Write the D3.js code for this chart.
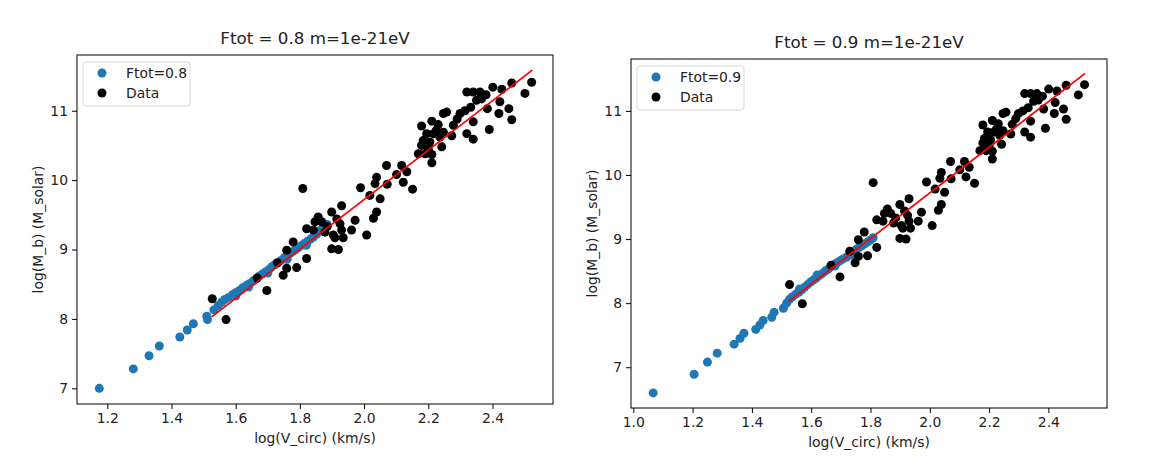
<!DOCTYPE html>
<html>
<head>
<meta charset="utf-8">
<script src="https://cdn.jsdelivr.net/npm/d3@7"></script>
<style>
  body { margin: 0; background: #fff; }
  text { font-family: "DejaVu Sans", sans-serif; fill: #222; }
</style>
</head>
<body>
<script>
const W = 1168
const H = 458

// observed galaxies, log(V_circ) vs log(M_b), shared by both panels
const dataPoints = [
  [2.522, 11.41], [2.501, 11.25], [2.460, 11.40], [2.429, 11.31], [2.401, 11.34],
  [2.423, 11.13], [2.451, 11.03], [2.420, 10.96], [2.460, 10.87], [2.390, 10.73],
  [2.380, 11.23], [2.384, 11.03], [2.361, 11.27], [2.340, 11.27], [2.320, 11.27],
  [2.366, 11.17], [2.332, 11.05], [2.314, 11.00], [2.299, 10.96], [2.257, 10.98],
  [2.247, 10.96], [2.278, 10.79], [2.340, 10.84], [2.320, 10.67], [2.340, 10.59],
  [2.211, 10.85], [2.231, 10.80], [2.179, 10.78], [2.195, 10.67], [2.216, 10.67],
  [2.247, 10.69], [2.273, 10.64], [2.184, 10.57], [2.205, 10.55], [2.236, 10.62],
  [2.242, 10.48], [2.179, 10.50], [2.169, 10.38], [2.190, 10.38], [2.211, 10.37],
  [2.211, 10.25], [2.133, 10.12], [2.117, 10.21], [2.122, 9.97], [2.151, 9.87],
  [1.809, 9.88], [2.070, 10.21], [2.101, 10.08], [2.039, 10.04], [2.034, 9.95],
  [2.072, 9.94], [1.989, 9.89], [2.018, 9.78], [2.050, 9.73], [2.039, 9.54],
  [2.029, 9.45], [1.972, 9.42], [1.961, 9.28], [2.008, 9.21], [1.930, 9.63],
  [1.899, 9.54], [1.925, 9.37], [1.930, 9.28], [1.935, 9.17], [1.909, 9.17],
  [1.899, 9.01], [1.920, 9.00], [1.857, 9.47], [1.847, 9.40], [1.868, 9.40],
  [1.821, 9.30], [1.842, 9.28], [1.779, 9.11], [1.759, 8.99], [1.821, 8.87],
  [1.759, 8.73], [1.790, 8.74], [1.878, 9.25], [1.904, 9.21],
  [1.527, 8.29], [1.570, 7.99], [1.697, 8.41], [1.667, 8.59], [1.730, 8.81],
  [1.748, 8.63], [2.350, 11.15], [2.290, 10.88], [2.200, 10.45], [2.225, 10.72],
  [1.885, 9.33], [1.915, 9.44]
]

// model points, Ftot = 0.8
const ftot08Points = [
  [1.175, 7.00], [1.281, 7.28], [1.330, 7.47], [1.362, 7.61], [1.426, 7.74],
  [1.449, 7.84], [1.468, 7.93], [1.510, 8.04], [1.512, 7.99], [1.532, 8.13],
  [1.545, 8.19], [1.556, 8.24], [1.566, 8.28], [1.578, 8.31], [1.590, 8.35],
  [1.601, 8.38], [1.600, 8.33], [1.612, 8.41], [1.622, 8.45], [1.633, 8.48],
  [1.640, 8.46], [1.644, 8.51], [1.655, 8.55], [1.665, 8.58], [1.674, 8.62],
  [1.684, 8.65], [1.694, 8.68], [1.700, 8.66], [1.703, 8.71], [1.712, 8.75],
  [1.722, 8.78], [1.731, 8.81], [1.741, 8.84], [1.751, 8.88], [1.760, 8.91],
  [1.760, 8.86], [1.769, 8.94], [1.778, 8.97], [1.787, 9.00], [1.796, 9.03],
  [1.806, 9.06], [1.815, 9.09], [1.820, 9.06], [1.824, 9.12], [1.833, 9.15],
  [1.842, 9.18], [1.852, 9.22], [1.862, 9.27], [1.872, 9.31], [1.885, 9.36]
]

// model points, Ftot = 0.9
const ftot09Points = [
  [1.067, 6.60], [1.205, 6.89], [1.250, 7.08], [1.283, 7.22], [1.340, 7.36],
  [1.360, 7.45], [1.373, 7.53], [1.413, 7.59], [1.427, 7.66], [1.438, 7.73],
  [1.467, 7.78], [1.475, 7.86], [1.506, 7.92], [1.517, 8.00], [1.527, 8.06],
  [1.537, 8.10], [1.548, 8.14], [1.558, 8.17], [1.560, 8.22], [1.568, 8.21],
  [1.578, 8.25], [1.588, 8.29], [1.598, 8.33], [1.607, 8.36], [1.617, 8.39],
  [1.620, 8.44], [1.627, 8.43], [1.637, 8.46], [1.647, 8.50], [1.657, 8.53],
  [1.667, 8.57], [1.677, 8.60], [1.680, 8.58], [1.687, 8.63], [1.697, 8.66],
  [1.708, 8.69], [1.720, 8.72], [1.731, 8.76], [1.740, 8.76], [1.742, 8.80],
  [1.752, 8.84], [1.762, 8.87], [1.772, 8.90], [1.782, 8.93], [1.792, 8.96],
  [1.801, 8.99], [1.809, 9.02]
]

// red fit line end points
const fitLine = [[1.525, 8.03], [2.524, 11.585]]

const xTicksLeft = [1.2, 1.4, 1.6, 1.8, 2.0, 2.2, 2.4]
const xTicksRight = [1.0, 1.2, 1.4, 1.6, 1.8, 2.0, 2.2, 2.4]
const yTicks = [7, 8, 9, 10, 11]

const R = 4.5

const svg = d3.select('body').append('svg')
  .attr('width', W)
  .attr('height', H)

const drawPanel = (p) => {
  const x = d3.scaleLinear().domain(p.xDomain).range([p.left, p.right])
  const y = d3.scaleLinear().domain(p.yDomain).range([p.bottom, p.top])
  const g = svg.append('g')

  // points
  g.selectAll('circle.model')
    .data(p.model)
    .enter()
    .append('circle')
    .attr('class', 'model')
    .attr('cx', d => x(d[0]))
    .attr('cy', d => y(d[1]))
    .attr('r', R)
    .attr('fill', '#1f77b4')

  g.selectAll('circle.obs')
    .data(dataPoints)
    .enter()
    .append('circle')
    .attr('class', 'obs')
    .attr('cx', d => x(d[0]))
    .attr('cy', d => y(d[1]))
    .attr('r', R)
    .attr('fill', '#000')

  g.append('path')
    .datum(fitLine)
    .attr('d', d3.line().x(d => x(d[0])).y(d => y(d[1])))
    .attr('stroke', 'red')
    .attr('stroke-width', 1.7)
    .attr('fill', 'none')

  // axes
  const xAxis = g.append('g')
    .attr('transform', `translate(0,${p.bottom})`)
    .call(d3.axisBottom(x).tickValues(p.xTicks).tickFormat(d3.format('.1f')).tickSizeInner(5).tickSizeOuter(0).tickPadding(4))
  const yAxis = g.append('g')
    .attr('transform', `translate(${p.left},0)`)
    .call(d3.axisLeft(y).tickValues(yTicks).tickFormat(d3.format('d')).tickSizeInner(5).tickSizeOuter(0).tickPadding(4))
  ;[xAxis, yAxis].forEach(a => {
    a.select('.domain').remove()
    a.selectAll('line').attr('stroke', '#000')
    a.selectAll('text').attr('font-size', '13.9px').attr('fill', '#222')
      .style('font-family', '"DejaVu Sans", sans-serif')
  })

  // frame
  g.append('rect')
    .attr('x', p.left)
    .attr('y', p.top)
    .attr('width', p.right - p.left)
    .attr('height', p.bottom - p.top)
    .attr('fill', 'none')
    .attr('stroke', '#000')
    .attr('stroke-width', 1)

  // titles
  g.append('text')
    .attr('x', (p.left + p.right) / 2)
    .attr('y', p.top - 11)
    .attr('text-anchor', 'middle')
    .attr('font-size', '16.7px')
    .text(p.title)

  g.append('text')
    .attr('x', (p.left + p.right) / 2)
    .attr('y', p.bottom + 39)
    .attr('text-anchor', 'middle')
    .attr('font-size', '13.9px')
    .text('log(V_circ) (km/s)')

  g.append('text')
    .attr('transform', `translate(${p.left - 34},${(p.top + p.bottom) / 2}) rotate(-90)`)
    .attr('text-anchor', 'middle')
    .attr('font-size', '13.9px')
    .text('log(M_b) (M_solar)')

  // legend
  const lx = p.left + 6
  const ly = p.top + 7
  const leg = g.append('g')
  leg.append('rect')
    .attr('x', lx)
    .attr('y', ly)
    .attr('width', 107)
    .attr('height', 44)
    .attr('rx', 3)
    .attr('fill', '#fff')
    .attr('fill-opacity', 0.8)
    .attr('stroke', '#d6d6d6')
  const entries = [[p.label, '#1f77b4'], ['Data', '#000']]
  entries.forEach((e, i) => {
    leg.append('circle')
      .attr('cx', lx + 19)
      .attr('cy', ly + 11 + i * 20)
      .attr('r', R)
      .attr('fill', e[1])
    leg.append('text')
      .attr('x', lx + 43)
      .attr('y', ly + 16 + i * 20)
      .attr('font-size', '13.9px')
      .text(e[0])
  })
}

drawPanel({
  left: 77, right: 553, top: 55, bottom: 404,
  xDomain: [1.1056, 2.5885], yDomain: [6.774, 11.803],
  xTicks: xTicksLeft, model: ftot08Points,
  title: 'Ftot = 0.8 m=1e-21eV', label: 'Ftot=0.8'
})

drawPanel({
  left: 631, right: 1107, top: 59, bottom: 408,
  xDomain: [0.9922, 2.5977], yDomain: [6.364, 11.81],
  xTicks: xTicksRight, model: ftot09Points,
  title: 'Ftot = 0.9 m=1e-21eV', label: 'Ftot=0.9'
})
</script>
</body>
</html>
